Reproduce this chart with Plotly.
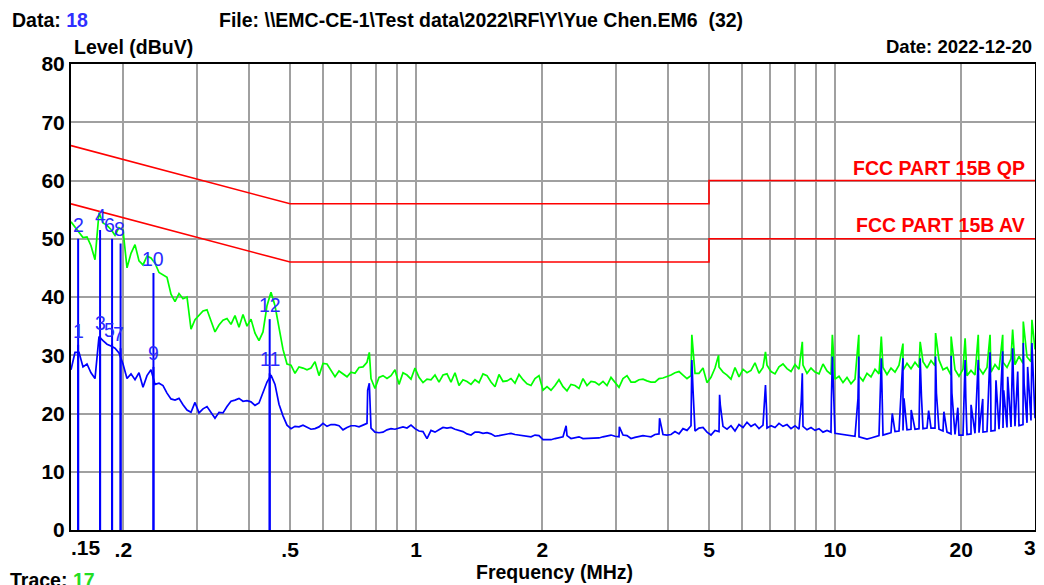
import numpy as np
import plotly.graph_objects as go

# ---------------- data ----------------
F_START, F_STOP = 0.15, 30.0  # MHz sweep range

# Peak/QP scan (green), sampled on the receiver's log sweep grid
green_level = [
    52.9, 52.0, 51.2, 50.2, 50.3, 48.8, 46.4, 54.5, 52.7, 52.3,
    51.6, 50.6, 51.9, 51.5, 45.0, 47.5, 49.0, 46.2, 45.5, 47.0,
    46.7, 45.8, 44.2, 43.8, 43.4, 40.5, 39.2, 40.6, 39.7, 40.0,
    34.5, 36.1, 36.9, 37.6, 37.8, 35.8, 34.0, 35.2, 36.0, 36.3,
    35.3, 36.8, 34.8, 37.0, 35.0, 36.2, 33.8, 32.5, 34.0, 38.5,
    40.8, 38.5, 34.5, 31.0, 28.5, 28.3, 26.9, 28.0, 27.8, 27.5,
    27.8, 28.9, 26.5, 28.6, 28.5, 27.3, 26.3, 27.3, 26.8, 26.3,
    27.1, 26.9, 27.9, 28.0, 28.8, 26.0, 24.3, 26.2, 26.5, 26.0,
    26.5, 27.5, 25.0, 27.0, 26.6, 25.9, 27.8, 26.2, 25.3, 25.9,
    25.8, 26.6, 25.4, 26.6, 26.8, 25.4, 27.0, 24.8, 25.8, 25.5,
    25.0, 25.8, 25.3, 26.8, 26.5, 25.4, 24.6, 26.7, 25.5, 25.6,
    26.0, 25.2, 26.7, 25.8, 25.1, 24.8, 26.0, 26.5, 24.0, 24.6,
    24.0, 24.8, 25.8, 24.6, 23.9, 25.0, 24.8, 24.3, 26.0, 24.8,
    25.5, 25.4, 24.9, 25.5, 24.8, 26.2, 25.4, 24.5, 26.0, 26.5,
    25.4, 25.4, 25.8, 25.9, 25.6, 25.4, 25.4, 26.0, 26.1, 26.3,
    26.6, 27.0, 27.2, 26.6, 26.0, 26.5, 26.9, 26.9, 27.8, 25.3,
    26.2, 27.8, 28.0, 27.1, 26.6, 25.9, 27.9, 26.3, 27.6, 27.0,
    27.4, 28.7, 26.9, 27.9, 28.3, 27.2, 26.8, 28.0, 28.5, 27.7,
    27.2, 28.4, 27.6, 28.3, 26.9, 27.8, 27.1, 26.8, 28.5, 27.3,
    26.7, 25.9, 26.4, 25.3, 26.2, 25.1, 25.9, 26.4, 25.6, 26.9,
    26.3, 27.6, 26.8, 27.9, 26.7, 27.8, 27.1, 28.3, 27.4, 28.6,
    27.7, 28.8, 27.9, 28.9, 27.8, 29.1, 28.2, 29.2, 27.5, 27.9,
    26.6, 27.5, 26.4, 27.6, 26.5, 27.4, 26.6, 27.8, 26.8, 27.9,
    27.1, 28.4, 27.5, 28.8, 27.9, 29.4, 28.4, 29.8, 28.6, 29.7,
    28.9, 31.0,
]

# Average scan (blue)
blue_level = [
    27.5, 30.5, 30.5, 28.0, 28.5, 27.0, 26.0, 33.2, 32.5, 31.9,
    31.6, 31.2, 30.4, 28.5, 26.0, 26.8, 25.8, 27.0, 24.5, 26.5,
    27.5, 25.0, 25.2, 24.8, 23.5, 22.5, 22.3, 22.6, 21.5, 20.6,
    20.2, 21.9, 20.1, 20.8, 21.2, 20.2, 19.2, 20.2, 20.1, 21.2,
    22.1, 22.3, 22.6, 22.1, 22.2, 22.0, 21.4, 21.8, 23.5, 25.4,
    26.6, 25.0, 21.6, 19.6, 18.0, 17.4, 17.8, 17.7, 18.0, 17.6,
    17.3, 17.4, 17.7, 18.3, 17.8, 18.1, 18.1, 17.9, 17.2, 17.6,
    17.9, 17.9, 17.7, 18.0, 18.3, 17.5, 16.8, 16.7, 16.8, 17.2,
    17.4, 17.3, 17.5, 17.7, 17.5, 18.0, 17.4, 17.0, 16.9, 15.7,
    17.1, 16.8, 17.2, 17.6, 17.5, 17.6, 17.3, 17.1, 16.9, 16.5,
    16.3, 16.8, 16.8, 16.6, 16.7, 16.5, 16.1, 16.2, 16.3, 16.5,
    16.6, 16.4, 16.3, 16.3, 16.2, 16.0, 16.3, 16.2, 15.5, 15.5,
    15.5, 15.7, 15.8, 16.0, 16.2, 15.7, 15.9, 16.0, 15.7, 15.7,
    15.7, 15.7, 15.8, 16.0, 16.2, 16.3, 16.1, 16.0, 16.3, 16.2,
    15.7, 15.9, 16.0, 16.2, 16.1, 16.0, 16.4, 16.5, 16.4, 16.3,
    16.4, 16.9, 16.5, 17.4, 17.1, 17.9, 17.0, 17.5, 17.6, 16.8,
    16.3, 17.1, 16.9, 17.8, 17.3, 17.9, 17.0, 18.1, 17.6, 18.5,
    17.8, 18.2, 17.4, 18.0, 17.5, 17.9, 17.6, 18.3, 17.8, 18.1,
    17.4, 17.9, 17.3, 17.8, 17.2, 17.6, 17.1, 17.4, 16.8, 17.1,
    16.8, 16.6, 16.5, 16.3, 16.2, 16.2, 16.1, 16.0, 15.8, 15.6,
    15.8, 16.0, 16.2, 16.3, 16.5, 16.7, 16.9, 17.0, 17.1, 17.2,
    17.3, 17.3, 17.4, 17.4, 17.5, 17.5, 17.5, 17.3, 17.0, 16.8,
    16.5, 16.4, 16.3, 16.3, 16.4, 16.5, 16.6, 16.7, 16.8, 16.9,
    17.0, 17.1, 17.3, 17.5, 17.6, 17.7, 17.8, 17.9, 18.1, 18.4,
    18.8, 19.2,
]

# narrow-band spikes (MHz, dBuV)
green_spike_freq = [0.773, 4.55, 5.27, 6.82, 8.35, 9.85, 11.39, 12.89, 14.52, 15.96,
                    17.37, 18.92, 20.43, 21.96, 23.43, 25.12, 26.53, 28.13, 29.50]
green_spike_level = [30.5, 33.5, 30.0, 30.6, 32.3, 33.5, 33.5, 33.2, 32.0, 32.3,
                     33.8, 33.2, 32.9, 33.5, 33.5, 33.5, 34.4, 35.8, 36.1]

blue_spike_freq = [0.766, 0.773, 2.28, 3.055, 3.81, 4.55, 4.58, 5.30, 5.32, 6.82,
                   6.86, 8.30, 8.35, 9.80, 9.85, 11.34, 11.39, 12.89, 12.98, 13.69,
                   14.52, 14.60, 15.19, 15.96, 16.07, 16.72, 17.37, 17.45, 18.18, 18.92,
                   19.00, 19.63, 20.43, 20.51, 21.11, 21.96, 22.02, 22.51, 23.43, 23.52,
                   24.21, 25.12, 25.26, 25.82, 26.53, 26.68, 27.28, 28.13, 28.26, 28.81,
                   29.50]
blue_spike_level = [24.0, 25.2, 17.9, 17.7, 19.2, 29.2, 24.0, 23.2, 21.5, 24.9,
                    20.6, 22.0, 26.9, 22.6, 29.8, 22.6, 29.8, 29.5, 22.6, 20.0,
                    29.5, 22.6, 20.6, 29.5, 23.0, 20.5, 29.8, 23.5, 20.3, 29.9,
                    23.5, 21.0, 29.2, 22.6, 21.5, 29.2, 24.0, 22.5, 30.5, 24.3,
                    25.7, 30.7, 24.0, 26.3, 31.2, 24.5, 27.2, 32.1, 25.0, 28.0,
                    32.1]

# limit lines
qp_limit_freq = [0.15, 0.5, 5.0, 5.0, 30.0]
qp_limit_level = [66, 56, 56, 60, 60]
av_limit_freq = [0.15, 0.5, 5.0, 5.0, 30.0]
av_limit_level = [56, 46, 46, 50, 50]

# markers
marker_no = [1, 2, 3, 4, 5, 6, 7, 8, 9, 10, 11, 12]
marker_freq = [0.156, 0.156, 0.176, 0.176, 0.188, 0.188, 0.197, 0.197, 0.236, 0.236, 0.447, 0.447]
marker_level = [31.8, 50.0, 33.2, 51.5, 32.0, 50.0, 31.2, 49.2, 28.0, 44.1, 26.9, 36.2]

x_tick_vals = [0.15, 0.2, 0.3, 0.4, 0.5, 0.6, 0.7, 0.8, 0.9, 1, 2, 3, 4, 5, 6, 7, 8, 9, 10, 20, 30]
x_tick_text = ['', '.2', '', '', '.5', '', '', '', '', '1', '2', '', '', '5', '', '', '', '', '10', '20', '']

# ---------------- build traces ----------------
def merge(levels, sf, sl):
    f = np.geomspace(F_START, F_STOP, len(levels))
    ff = np.concatenate([f, np.array(sf)])
    ll = np.concatenate([np.array(levels), np.array(sl)])
    o = np.argsort(ff, kind='stable')
    return ff[o], ll[o]

gf, gl = merge(green_level, green_spike_freq, green_spike_level)
bf, bl = merge(blue_level, blue_spike_freq, blue_spike_level)

FONT = 'Liberation Sans'
fig = go.Figure()
fig.add_trace(go.Scatter(x=qp_limit_freq, y=qp_limit_level, mode='lines',
                         line=dict(color='#ff0000', width=1.6), hoverinfo='skip'))
fig.add_trace(go.Scatter(x=av_limit_freq, y=av_limit_level, mode='lines',
                         line=dict(color='#ff0000', width=1.6), hoverinfo='skip'))
fig.add_trace(go.Scatter(x=gf, y=gl, mode='lines', line=dict(color='#00ff00', width=1.7)))
fig.add_trace(go.Scatter(x=bf, y=bl, mode='lines', line=dict(color='#0000ff', width=1.7)))

mx, my = [], []
for f, l in zip(marker_freq, marker_level):
    mx += [f, f, None]
    my += [0, l, None]
fig.add_trace(go.Scatter(x=mx, y=my, mode='lines', line=dict(color='#0000ff', width=2)))

label_dx = {5: -3, 6: -3, 7: -2, 8: -1}
anns = []
for n, f, l in zip(marker_no, marker_freq, marker_level):
    anns.append(dict(x=np.log10(f), y=l, xref='x', yref='y', text=str(n), showarrow=False,
                     xanchor='center', yanchor='middle', yshift=14, xshift=label_dx.get(n, 0),
                     font=dict(family=FONT, size=19.5, color='#2a2aff')))

# layout geometry (page body has an 8 px margin, so the figure is offset by 8 px)
OFF = 8
FIG_W, FIG_H = 1044 - OFF, 585 - OFF
L, R, T, B = 71 - OFF, 1037 - OFF, 64 - OFF, 530 - OFF
W, H = R - L, B - T
def px(x):
    return (x - OFF - L) / W
def py(y):
    return (B - (y - OFF)) / H

bold = dict(family=FONT, size=19.5, color='black', weight='bold')
anns += [
    dict(x=px(10), y=py(20), text="Data: <span style='color:#2f2fff'>18</span>"),
    dict(x=px(217), y=py(20), text="File: \\\\EMC-CE-1\\Test data\\2022\\RF\\Y\\Yue Chen.EM6  (32)"),
    dict(x=px(1036), y=py(46), text="Date: 2022-12-20", xanchor='right'),
    dict(x=px(72), y=py(47), text="Level (dBuV)"),
    dict(x=px(556), y=py(572), text="Frequency (MHz)", xanchor='center'),
    dict(x=px(8), y=py(580), text="Trace: <span style='color:#22dd22'>17</span>"),
    dict(x=px(86), y=py(547), text=".15", xanchor='center'),
    dict(x=px(1037), y=py(547), text="30", xanchor='center'),
]
for a in anns[-8:]:
    a.setdefault('xanchor', 'left')
    a.update(xref='paper', yref='paper', yanchor='middle', showarrow=False, font=bold)
anns[-6]['font'] = dict(family=FONT, size=18.5, color='black', weight='bold')
tickf = dict(family=FONT, size=21, color='black', weight='bold')
anns[-2]['font'] = tickf
anns[-1]['font'] = tickf

red = dict(family=FONT, size=19.5, color='#ff0000', weight='bold')
anns += [
    dict(x=px(1029), y=py(168), text="FCC PART 15B QP", xref='paper', yref='paper',
         xanchor='right', yanchor='middle', showarrow=False, font=red),
    dict(x=px(1029), y=py(225), text="FCC PART 15B AV", xref='paper', yref='paper',
         xanchor='right', yanchor='middle', showarrow=False, font=red),
]

fig.update_layout(
    width=FIG_W, height=FIG_H,
    margin=dict(l=L, r=FIG_W - R, t=T, b=FIG_H - B),
    paper_bgcolor='white', plot_bgcolor='white',
    showlegend=False,
    annotations=anns,
    xaxis=dict(type='log', range=[np.log10(F_START), np.log10(F_STOP)],
               tickvals=x_tick_vals, ticktext=x_tick_text, ticks='',
               showgrid=True, gridcolor='#a0a0a0', gridwidth=1.6,
               showline=True, linecolor='black', linewidth=2, mirror=True,
               tickfont=tickf, zeroline=False),
    yaxis=dict(range=[0, 80], dtick=10, tick0=0, ticks='',
               showgrid=True, gridcolor='#a0a0a0', gridwidth=1.6,
               showline=True, linecolor='black', linewidth=2, mirror=True,
               tickfont=tickf, zeroline=False),
)

fig.write_html("out.html")
